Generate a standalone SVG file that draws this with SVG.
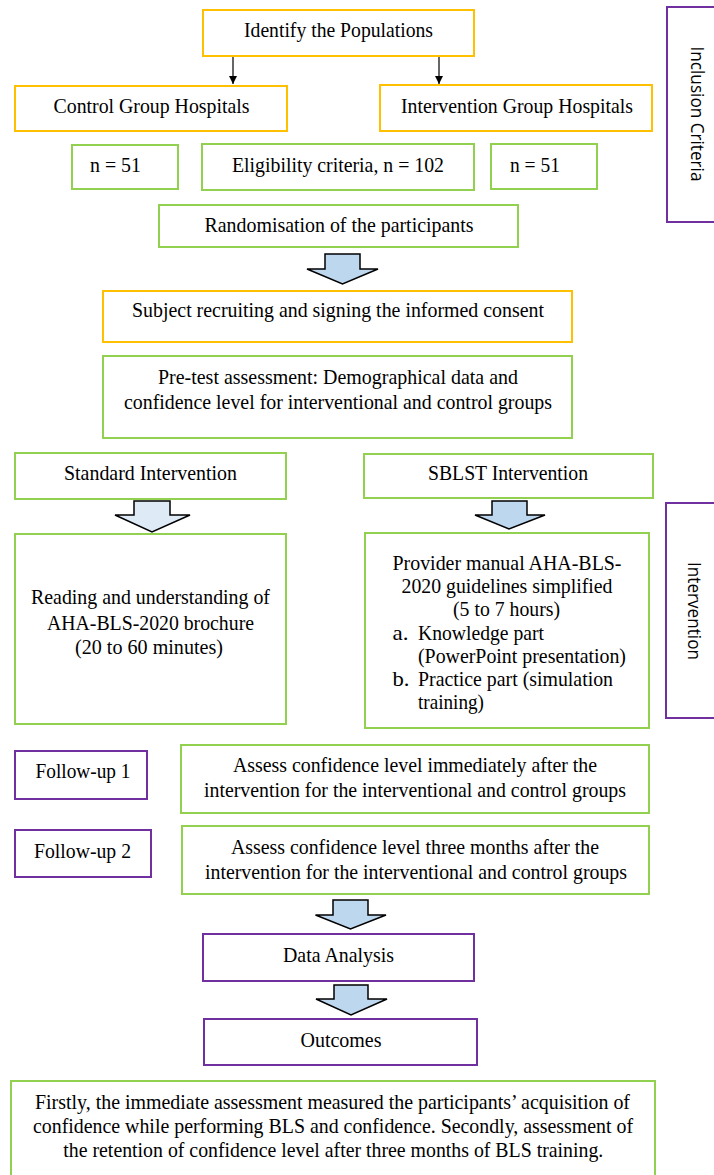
<svg xmlns="http://www.w3.org/2000/svg" width="714" height="1175" viewBox="0 0 714 1175">
<style>
rect{fill:#fff;stroke-width:2}
.y{stroke:#FFC000}
.g{stroke:#92D050}
.p{stroke:#7030A0}
text{font-family:"Liberation Serif","Times New Roman",serif;font-size:22px;fill:#000}
.c{text-anchor:middle}
.side{font-family:"Open Sans","Liberation Sans",sans-serif;font-size:18px;text-anchor:middle}
.ba{fill:#BDD7EE;stroke:#000;stroke-width:1.5;stroke-linejoin:miter}
.bl{fill:#DEEBF7;stroke:#000;stroke-width:1.5}
.ln{stroke:#000;stroke-width:1.2;fill:none}
</style>
<defs>
<marker id="ah" viewBox="0 0 10 10" refX="10" refY="5" markerWidth="8" markerHeight="10" markerUnits="userSpaceOnUse" orient="auto">
<path d="M0,0 L10,5 L0,10 z" fill="#000"/>
</marker>
</defs>
<rect x="0" y="0" width="714" height="1175" style="fill:#fff;stroke:none"/>

<g id="connectors">
<line class="ln" x1="233" y1="56" x2="233" y2="84" marker-end="url(#ah)"/>
<line class="ln" x1="439" y1="56" x2="439" y2="84" marker-end="url(#ah)"/>
<path class="ba" d="M325,254 H360 V269 H378 L342.5,284 L307,269 H325 Z"/>
<path class="bl" d="M134,501 H170 V515 H190 L152,532 L115,515 H134 Z"/>
<path class="ba" d="M492,501 H527 V515 H545 L509,529 L475,515 H492 Z"/>
<path class="ba" d="M333,900 H368 V915 H386 L350.5,929 L315.5,915 H333 Z"/>
<path class="ba" d="M334,985 H368 V999 H387 L351,1015 L316,999 H334 Z"/>
</g>

<g id="identify"><rect class="y" x="203" y="10" width="271" height="46"/><text class="c" x="338.5" y="37" textLength="189" lengthAdjust="spacingAndGlyphs">Identify the Populations</text></g>
<g id="control"><rect class="y" x="15" y="86" width="272" height="45"/><text class="c" x="151.5" y="113" textLength="196" lengthAdjust="spacingAndGlyphs">Control Group Hospitals</text></g>
<g id="intervention-hospitals"><rect class="y" x="380" y="85" width="272" height="46"/><text class="c" x="517" y="113" textLength="232" lengthAdjust="spacingAndGlyphs">Intervention Group Hospitals</text></g>
<g id="n-left"><rect class="g" x="72" y="145" width="106" height="44"/><text x="90" y="172" textLength="51" lengthAdjust="spacingAndGlyphs">n = 51</text></g>
<g id="eligibility"><rect class="g" x="202" y="144" width="272" height="46"/><text class="c" x="338" y="172" textLength="212" lengthAdjust="spacingAndGlyphs">Eligibility criteria, n = 102</text></g>
<g id="n-right"><rect class="g" x="491" y="144" width="106" height="45"/><text x="510" y="172" textLength="50" lengthAdjust="spacingAndGlyphs">n = 51</text></g>
<g id="randomisation"><rect class="g" x="159" y="205" width="359" height="42"/><text class="c" x="339" y="232" textLength="269" lengthAdjust="spacingAndGlyphs">Randomisation of the participants</text></g>
<g id="inclusion"><rect class="p" x="667" y="7" width="60" height="215"/><text class="side" transform="translate(691,114) rotate(90)" textLength="135" lengthAdjust="spacingAndGlyphs">Inclusion Criteria</text></g>

<g id="subject"><rect class="y" x="103" y="291" width="469" height="51"/><text class="c" x="338" y="317" textLength="412" lengthAdjust="spacingAndGlyphs">Subject recruiting and signing the informed consent</text></g>
<g id="pretest"><rect class="g" x="103" y="356" width="469" height="82"/>
<text class="c" x="338" y="384" textLength="360" lengthAdjust="spacingAndGlyphs">Pre-test assessment: Demographical data and</text>
<text class="c" x="338" y="409" textLength="428" lengthAdjust="spacingAndGlyphs">confidence level for interventional and control groups</text></g>

<g id="standard"><rect class="g" x="15" y="453" width="271" height="46"/><text class="c" x="150.5" y="480" textLength="173" lengthAdjust="spacingAndGlyphs">Standard Intervention</text></g>
<g id="sblst"><rect class="g" x="364" y="454" width="289" height="44"/><text class="c" x="508" y="480" textLength="160" lengthAdjust="spacingAndGlyphs">SBLST Intervention</text></g>

<g id="reading"><rect class="g" x="15" y="534" width="271" height="190"/>
<text class="c" x="150.5" y="604" textLength="239" lengthAdjust="spacingAndGlyphs">Reading and understanding of</text>
<text class="c" x="150.5" y="630" textLength="207" lengthAdjust="spacingAndGlyphs">AHA-BLS-2020 brochure</text>
<text class="c" x="149" y="654" textLength="148" lengthAdjust="spacingAndGlyphs">(20 to 60 minutes)</text></g>

<g id="provider"><rect class="g" x="365" y="533" width="284" height="195"/>
<text class="c" x="507" y="570" textLength="229" lengthAdjust="spacingAndGlyphs">Provider manual AHA-BLS-</text>
<text class="c" x="507" y="593" textLength="211" lengthAdjust="spacingAndGlyphs">2020 guidelines simplified</text>
<text class="c" x="506.5" y="616" textLength="107" lengthAdjust="spacingAndGlyphs">(5 to 7 hours)</text>
<text x="392.5" y="640" textLength="16" lengthAdjust="spacingAndGlyphs">a.</text><text x="418" y="640" textLength="126" lengthAdjust="spacingAndGlyphs">Knowledge part</text>
<text x="418" y="663" textLength="208" lengthAdjust="spacingAndGlyphs">(PowerPoint presentation)</text>
<text x="392.5" y="686" textLength="17" lengthAdjust="spacingAndGlyphs">b.</text><text x="418" y="686" textLength="195" lengthAdjust="spacingAndGlyphs">Practice part (simulation</text>
<text x="418" y="709" textLength="66" lengthAdjust="spacingAndGlyphs">training)</text></g>
<g id="intervention-label"><rect class="p" x="666" y="503" width="60" height="215"/><text class="side" transform="translate(688,611) rotate(90)" textLength="98" lengthAdjust="spacingAndGlyphs">Intervention</text></g>

<g id="follow1"><rect class="p" x="15" y="751" width="132" height="48"/><text class="c" x="83" y="778" textLength="95" lengthAdjust="spacingAndGlyphs">Follow-up 1</text></g>
<g id="assess1"><rect class="g" x="181" y="745" width="468" height="68"/>
<text class="c" x="415" y="772" textLength="364" lengthAdjust="spacingAndGlyphs">Assess confidence level immediately after the</text>
<text class="c" x="415" y="797" textLength="422" lengthAdjust="spacingAndGlyphs">intervention for the interventional and control groups</text></g>
<g id="follow2"><rect class="p" x="15" y="830" width="136" height="47"/><text class="c" x="82.5" y="858" textLength="97" lengthAdjust="spacingAndGlyphs">Follow-up 2</text></g>
<g id="assess2"><rect class="g" x="182" y="826" width="467" height="68"/>
<text class="c" x="415" y="854" textLength="368" lengthAdjust="spacingAndGlyphs">Assess confidence level three months after the</text>
<text class="c" x="416" y="879" textLength="422" lengthAdjust="spacingAndGlyphs">intervention for the interventional and control groups</text></g>

<g id="data-analysis"><rect class="p" x="203" y="934" width="271" height="47"/><text class="c" x="338.5" y="962" textLength="111" lengthAdjust="spacingAndGlyphs">Data Analysis</text></g>
<g id="outcomes"><rect class="p" x="204" y="1019" width="273" height="46"/><text class="c" x="341" y="1047" textLength="81" lengthAdjust="spacingAndGlyphs">Outcomes</text></g>

<g id="summary"><rect class="g" x="11" y="1081" width="644" height="110"/>
<text class="c" x="332.5" y="1109" textLength="595" lengthAdjust="spacingAndGlyphs">Firstly, the immediate assessment measured the participants’ acquisition of</text>
<text class="c" x="333" y="1133" textLength="600" lengthAdjust="spacingAndGlyphs">confidence while performing BLS and confidence. Secondly, assessment of</text>
<text class="c" x="333.3" y="1157" textLength="540" lengthAdjust="spacingAndGlyphs">the retention of confidence level after three months of BLS training.</text></g>
</svg>
